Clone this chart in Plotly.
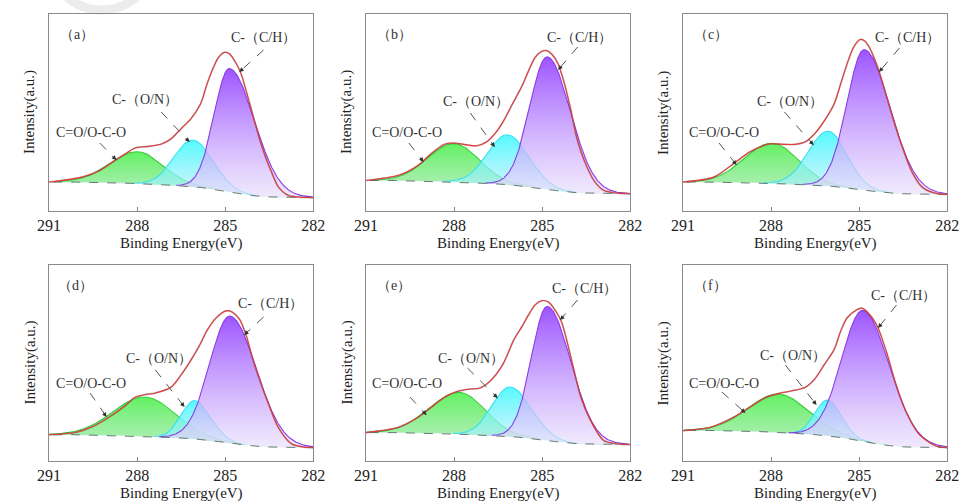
import numpy as np
import plotly.graph_objects as go

W, H = 969, 504

tags = ["（a）", "（b）", "（c）", "（d）", "（e）", "（f）"]
lab_ch = "C-（C/H）"
lab_on = "C-（O/N）"
lab_co = "C=O/O-C-O"
x_title = "Binding Energy(eV)"
y_title = "Intensity(a.u.)"
tick_vals = [291, 288, 285, 282]
tick_text = ["291", "288", "285", "282"]

# fitted components: centre (eV), height (a.u.), half widths at half max (high-BE side / low-BE side)
green_center = [287.97, 287.99, 287.96, 287.73, 287.81, 287.73]
green_height = [16.2, 19.4, 20.4, 20.1, 21.3, 19.6]
green_hw_hi = [1.10, 1.05, 1.10, 1.27, 1.20, 1.22]
green_hw_lo = [1.00, 1.00, 1.05, 1.22, 1.02, 1.20]

cyan_center = [286.10, 286.18, 286.05, 286.04, 286.09, 286.07]
cyan_height = [23.7, 25.3, 27.8, 19.5, 25.3, 18.2]
cyan_hw_hi = [0.75, 0.80, 0.80, 0.53, 0.72, 0.50]
cyan_hw_lo = [0.80, 0.85, 0.75, 0.65, 0.85, 0.55]

purple_center = [284.85, 284.82, 284.82, 284.83, 284.82, 284.86]
purple_height = [62.6, 67.2, 71.3, 64.8, 68.4, 66.8]
purple_hw_hi = [0.62, 0.71, 0.70, 0.82, 0.64, 0.86]
purple_hw_lo = [1.00, 0.93, 1.03, 1.05, 0.94, 1.06]

bg_left = [14.7, 15.5, 14.7, 13.4, 14.5, 15.6]
bg_right = [6.8, 8.8, 8.4, 6.8, 8.4, 6.8]

# measured spectra (fitted envelope)
env_E_a = [291.0, 289.88, 289.27, 288.72, 288.39, 288.05, 287.61, 287.17, 286.84, 286.51, 286.17, 285.84, 285.62, 285.40, 285.23, 285.01, 284.85, 284.62, 284.46, 284.29, 284.07, 283.85, 283.63, 283.40, 283.19, 282.85, 282.52, 282.0]
env_I_a = [14.7, 17.2, 20.6, 26.0, 29.1, 32.1, 32.8, 34.0, 36.7, 41.7, 46.8, 54.4, 64.5, 73.0, 78.0, 80.6, 79.7, 74.7, 69.6, 61.1, 49.3, 37.5, 27.4, 18.9, 12.2, 7.9, 7.1, 6.8]
env_E_b = [291.0, 289.89, 289.23, 288.78, 288.34, 287.99, 287.67, 287.23, 286.90, 286.57, 286.34, 286.01, 285.68, 285.46, 285.24, 285.01, 284.85, 284.68, 284.46, 284.24, 284.02, 283.80, 283.57, 283.24, 282.91, 282.47, 282.0]
env_I_b = [15.5, 18.1, 23.1, 29.1, 33.8, 34.5, 33.8, 33.1, 35.0, 40.0, 45.1, 54.4, 63.7, 71.3, 78.0, 81.1, 81.4, 79.7, 74.7, 64.5, 51.0, 35.8, 25.7, 15.5, 10.5, 9.1, 8.8]
env_E_c = [291.0, 289.95, 289.28, 288.73, 288.18, 287.96, 287.51, 287.18, 286.85, 286.52, 286.18, 285.85, 285.63, 285.41, 285.19, 284.97, 284.86, 284.69, 284.41, 284.19, 283.86, 283.53, 283.20, 282.86, 282.42, 282.0]
env_I_c = [14.7, 17.2, 24.0, 29.9, 33.6, 34.1, 33.8, 33.8, 35.0, 39.2, 45.9, 54.4, 64.5, 74.7, 83.1, 87.0, 86.8, 84.0, 74.7, 64.5, 47.6, 32.4, 19.8, 12.2, 9.1, 8.4]
env_E_d = [291.0, 290.06, 289.51, 288.95, 288.40, 288.07, 287.73, 287.40, 286.85, 286.52, 286.18, 285.85, 285.63, 285.30, 284.97, 284.80, 284.52, 284.30, 284.08, 283.86, 283.53, 283.20, 282.75, 282.31, 282.0]
env_I_d = [13.4, 14.7, 17.6, 22.4, 28.3, 32.5, 33.9, 34.6, 37.6, 43.6, 51.2, 59.7, 66.4, 73.2, 76.6, 76.3, 72.4, 64.7, 52.9, 42.7, 29.2, 17.3, 8.8, 7.1, 6.8]
env_E_e = [291.0, 289.89, 289.23, 288.78, 288.34, 287.90, 287.45, 287.12, 286.79, 286.34, 285.96, 285.68, 285.46, 285.24, 285.01, 284.79, 284.57, 284.35, 284.13, 283.91, 283.68, 283.35, 282.91, 282.47, 282.0]
env_I_e = [14.5, 17.2, 22.3, 27.4, 32.4, 35.5, 36.7, 37.2, 40.5, 49.3, 62.0, 68.8, 74.7, 79.7, 81.8, 81.1, 77.2, 71.3, 59.5, 45.9, 32.4, 20.6, 10.5, 8.8, 8.4]
env_E_f = [291.0, 290.06, 289.28, 288.73, 288.18, 287.73, 287.29, 286.85, 286.52, 286.18, 285.85, 285.63, 285.41, 285.08, 284.91, 284.75, 284.41, 284.08, 283.75, 283.42, 282.97, 282.42, 282.0]
env_I_f = [15.5, 17.2, 22.3, 27.4, 32.4, 34.5, 35.8, 37.5, 41.7, 49.3, 56.9, 66.2, 73.0, 77.2, 78.0, 76.4, 69.6, 56.1, 39.2, 25.7, 13.9, 7.9, 6.8]

env_E = [env_E_a, env_E_b, env_E_c, env_E_d, env_E_e, env_E_f]
env_I = [env_I_a, env_I_b, env_I_c, env_I_d, env_I_e, env_I_f]

# ---------------- layout geometry (pixels) ----------------
col_left = [38, 363, 688]
plot_w = 271
row_top = [14, 265]
row_bot = [211, 461]

def px(x):
    return x / W

def py(y):
    return 1 - y / H

lab_pos = [
    dict(tag=(47, 35), ch=(222, 38, 258, 50, 233, 72), on=(100, 100, 153, 112, 182, 142), co=(43, 133, 90, 143, 107, 160)),
    dict(tag=(372, 35), ch=(547, 38, 580, 47, 560, 70), on=(440, 102, 470, 113, 495, 147), co=(367, 133, 407, 143, 422, 162)),
    dict(tag=(697, 35), ch=(883, 38, 910, 48, 889, 72), on=(762, 102, 792, 112, 822, 145), co=(692, 133, 725, 143, 743, 165)),
    dict(tag=(45, 285), ch=(230, 303, 258, 317, 238, 335), on=(115, 358, 147, 370, 177, 407), co=(43, 383, 80, 393, 97, 417)),
    dict(tag=(372, 285), ch=(552, 288, 580, 300, 562, 320), on=(435, 358, 467, 368, 498, 398), co=(367, 383, 408, 397, 425, 415)),
    dict(tag=(697, 285), ch=(879, 295, 907, 305, 888, 328), on=(765, 355, 793, 365, 825, 405), co=(692, 383, 728, 392, 752, 413)),
]

SERIF = "Liberation Serif"
grid = np.linspace(282, 291, 901)

def comp(c, h, whi, wlo):
    w = np.where(grid >= c, whi, wlo)
    return h * np.exp(-np.log(2) * ((grid - c) / w) ** 2)

fig = go.Figure()
shapes = []
annotations = []

comp_styles = [
    ("green", "rgba(60,205,60,1)", [[0, "rgba(150,232,160,0.7)"], [1, "rgba(90,240,90,0.95)"]]),
    ("cyan", "rgba(55,225,240,1)", [[0, "rgba(185,238,250,0.6)"], [1, "rgba(70,250,255,0.92)"]]),
    ("purple", "rgba(140,60,230,1)", [[0, "rgba(232,222,252,0.65)"], [1, "rgba(152,75,255,0.95)"]]),
]

for i in range(6):
    r, c = divmod(i, 3)
    xn = "x" if i == 0 else f"x{i+1}"
    yn = "y" if i == 0 else f"y{i+1}"
    L = col_left[c]
    g = comp(green_center[i], green_height[i], green_hw_hi[i], green_hw_lo[i])
    cy = comp(cyan_center[i], cyan_height[i], cyan_hw_hi[i], cyan_hw_lo[i])
    pu = comp(purple_center[i], purple_height[i], purple_hw_hi[i], purple_hw_lo[i])
    tot = g + cy + pu
    cum = np.concatenate([[0], np.cumsum((tot[1:] + tot[:-1]) / 2 * np.diff(grid))])
    bg = bg_right[i] + (bg_left[i] - bg_right[i]) * cum / cum[-1]

    for (name, lc, cs), comp_y in zip(comp_styles, [g, cy, pu]):
        xs = np.concatenate([grid, grid[::-1]])
        ys = np.concatenate([bg + comp_y, bg[::-1]])
        fig.add_trace(go.Scatter(x=xs, y=ys, mode="lines", fill="toself",
                                 fillgradient=dict(type="vertical", colorscale=cs),
                                 line=dict(width=0), xaxis=xn, yaxis=yn,
                                 hoverinfo="skip", showlegend=False))
        mask = comp_y > 0.15
        fig.add_trace(go.Scatter(x=grid[mask], y=(bg + comp_y)[mask], mode="lines",
                                 line=dict(color=lc, width=1.1), xaxis=xn, yaxis=yn,
                                 hoverinfo="skip", showlegend=False))
    fig.add_trace(go.Scatter(x=grid, y=bg, mode="lines",
                             line=dict(color="rgba(90,110,100,0.9)", width=1, dash="dash"),
                             xaxis=xn, yaxis=yn, hoverinfo="skip", showlegend=False))
    fig.add_trace(go.Scatter(x=env_E[i], y=env_I[i], mode="lines",
                             line=dict(color="rgba(60,60,60,0.35)", width=1.8, shape="spline", smoothing=0.8),
                             xaxis=xn, yaxis=yn, hoverinfo="skip", showlegend=False))
    fig.add_trace(go.Scatter(x=env_E[i], y=env_I[i], mode="lines",
                             line=dict(color="rgb(228,60,60)", width=1.1, shape="spline", smoothing=0.8),
                             xaxis=xn, yaxis=yn, hoverinfo="skip", showlegend=False))

    xk = "xaxis" if i == 0 else f"xaxis{i+1}"
    yk = "yaxis" if i == 0 else f"yaxis{i+1}"
    fig.layout[xk] = dict(domain=[px(L), px(L + plot_w)], anchor=yn, range=[291, 282],
                          tickvals=tick_vals, ticktext=tick_text, ticks="inside", ticklen=4,
                          tickcolor="#888", showline=True, mirror=True, linecolor="#8a8a8a",
                          linewidth=1.2, showgrid=False, zeroline=False,
                          tickfont=dict(family=SERIF, size=16, color="#222"))
    fig.layout[yk] = dict(domain=[py(row_bot[r]), py(row_top[r])], anchor=xn, range=[0, 100],
                          showticklabels=False, ticks="", showline=True, mirror=True,
                          linecolor="#8a8a8a", linewidth=1.2, showgrid=False, zeroline=False)

    annotations.append(dict(text=x_title, x=px(L + plot_w / 2), y=py(row_bot[r] + 32), xref="paper", yref="paper",
                            showarrow=False, xanchor="center", yanchor="middle",
                            font=dict(family=SERIF, size=15, color="#222")))
    annotations.append(dict(text=y_title, x=px(L - 20), y=py((row_top[r] + row_bot[r]) / 2), xref="paper", yref="paper",
                            showarrow=False, textangle=-90, xanchor="center", yanchor="middle",
                            font=dict(family=SERIF, size=15, color="#222")))

    lp = lab_pos[i]
    annotations.append(dict(text=tags[i], x=px(lp["tag"][0]), y=py(lp["tag"][1]), xref="paper", yref="paper",
                            showarrow=False, xanchor="left", yanchor="middle",
                            font=dict(family=SERIF, size=14, color="#333")))
    for key, txt in (("ch", lab_ch), ("on", lab_on), ("co", lab_co)):
        tx, ty, ax0, ay0, hx, hy = lp[key]
        annotations.append(dict(text=txt, x=px(tx), y=py(ty), xref="paper", yref="paper",
                                showarrow=False, xanchor="left", yanchor="middle",
                                font=dict(family=SERIF, size=14, color="#333")))
        shapes.append(dict(type="line", xref="paper", yref="paper", x0=px(ax0), y0=py(ay0),
                           x1=px(hx), y1=py(hy), line=dict(color="#555", width=1, dash="dash")))
        d = np.hypot(hx - ax0, hy - ay0)
        annotations.append(dict(text="", x=px(hx), y=py(hy), xref="paper", yref="paper",
                                showarrow=True, arrowhead=2, arrowsize=0.9, arrowwidth=1,
                                arrowcolor="#333", ax=-(hx - ax0) / d * 7, ay=-(hy - ay0) / d * 7,
                                standoff=0))

shapes.append(dict(type="circle", xref="paper", yref="paper", x0=px(37), x1=px(147), y0=py(10), y1=py(-100),
                   line=dict(color="#ececec", width=9), layer="below"))

fig.update_layout(width=W, height=H, margin=dict(l=0, r=0, t=0, b=0),
                  font=dict(family=SERIF),
                  paper_bgcolor="white", plot_bgcolor="white",
                  shapes=shapes, annotations=annotations, showlegend=False)

fig.write_html("out.html")
